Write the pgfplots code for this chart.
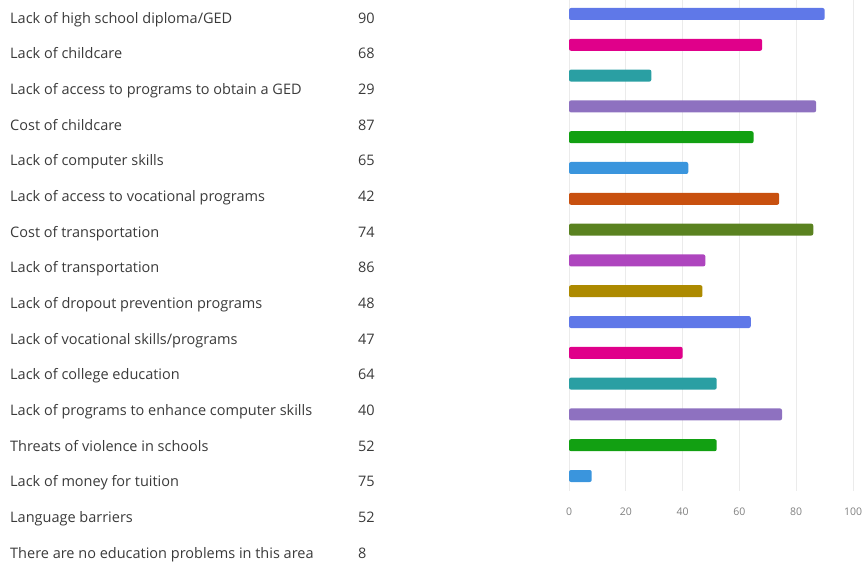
\documentclass[border=0pt]{standalone}
\usepackage{fontspec}
\setmainfont{Open Sans}
\usepackage{pgfplots}
\pgfplotsset{compat=1.18}

\definecolor{c1}{HTML}{5F78E8}
\definecolor{c2}{HTML}{E0008A}
\definecolor{c3}{HTML}{2A9FA3}
\definecolor{c4}{HTML}{8E71C0}
\definecolor{c5}{HTML}{12A012}
\definecolor{c6}{HTML}{3A95DD}
\definecolor{c7}{HTML}{C8500F}
\definecolor{c8}{HTML}{5A8220}
\definecolor{c9}{HTML}{AE45BE}
\definecolor{c10}{HTML}{AD8A00}
\definecolor{txt}{HTML}{3A3A3A}

\newcommand{\row}[2]{\makebox[348pt][l]{#1}#2}

\begin{document}
\begin{tikzpicture}
\path (0,0) rectangle (864pt,567pt);

% left column: category names and counts
\begin{axis}[
  at={(10pt,566.8pt)}, anchor=north west,
  scale only axis, width=20pt, height=570.7pt,
  xmin=0, xmax=1, ymin=-0.5, ymax=15.5, y dir=reverse,
  hide x axis, axis line style={draw=none},
  ytick={0,...,15},
  yticklabels={
    \row{Lack of high school diploma/GED}{90},
    \row{Lack of childcare}{68},
    \row{Lack of access to programs to obtain a GED}{29},
    \row{Cost of childcare}{87},
    \row{Lack of computer skills}{65},
    \row{Lack of access to vocational programs}{42},
    \row{Cost of transportation}{74},
    \row{Lack of transportation}{86},
    \row{Lack of dropout prevention programs}{48},
    \row{Lack of vocational skills/programs}{47},
    \row{Lack of college education}{64},
    \row{Lack of programs to enhance computer skills}{40},
    \row{Threats of violence in schools}{52},
    \row{Lack of money for tuition}{75},
    \row{Language barriers}{52},
    \row{There are no education problems in this area}{8}},
  yticklabel style={anchor=west, inner sep=0pt, text height=10pt, text depth=3pt,
    yshift=-1.5pt, font=\fontsize{14.5}{16}\selectfont, text=txt},
  major tick length=0pt,
]
\end{axis}

% bars
\begin{axis}[
  at={(569pt,568.4pt)}, anchor=north west,
  scale only axis, width=284pt, height=492.8pt,
  xmin=0, xmax=100, ymin=-0.5, ymax=15.5, y dir=reverse,
  xtick={0,20,...,100}, ytick=\empty,
  xmajorgrids, grid style={draw=black!8, line width=0.8pt},
  axis line style={draw=none}, major tick length=0pt,
  xticklabel style={font=\fontsize{10.5}{12}\selectfont, text=black!50, yshift=-13pt},
  /pgf/number format/assume math mode=true,
  xbar, bar width=12pt, bar shift=0pt,
  every axis plot/.append style={draw=none, rounded corners=2pt},
]
\addplot[fill=c1]  coordinates {(90,0)};
\addplot[fill=c2]  coordinates {(68,1)};
\addplot[fill=c3]  coordinates {(29,2)};
\addplot[fill=c4]  coordinates {(87,3)};
\addplot[fill=c5]  coordinates {(65,4)};
\addplot[fill=c6]  coordinates {(42,5)};
\addplot[fill=c7]  coordinates {(74,6)};
\addplot[fill=c8]  coordinates {(86,7)};
\addplot[fill=c9]  coordinates {(48,8)};
\addplot[fill=c10] coordinates {(47,9)};
\addplot[fill=c1]  coordinates {(64,10)};
\addplot[fill=c2]  coordinates {(40,11)};
\addplot[fill=c3]  coordinates {(52,12)};
\addplot[fill=c4]  coordinates {(75,13)};
\addplot[fill=c5]  coordinates {(52,14)};
\addplot[fill=c6]  coordinates {(8,15)};
\end{axis}

\pgfresetboundingbox
\path (0,0) rectangle (864pt,567pt);
\end{tikzpicture}
\end{document}
